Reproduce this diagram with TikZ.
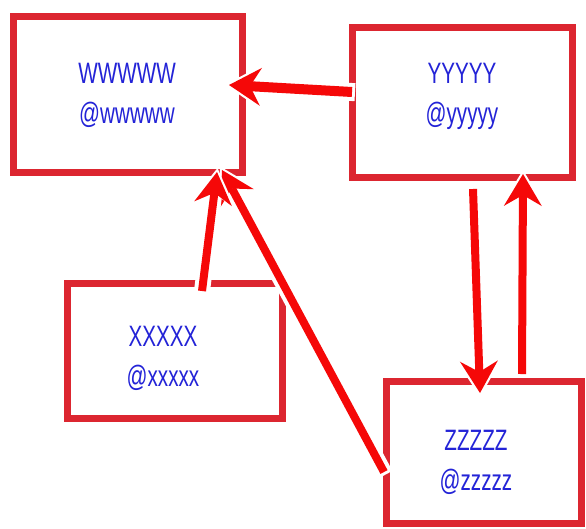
\documentclass[tikz,border=0pt]{standalone}
\usepackage{fontspec}
\usepackage{graphicx}
\setmainfont{Liberation Sans}
\usetikzlibrary{arrows.meta}
\definecolor{boxred}{RGB}{220,38,48}
\definecolor{arrred}{RGB}{245,8,8}
\definecolor{txtblue}{RGB}{35,35,215}
\newcommand\narrowtxt[1]{\scalebox{0.7}[1]{#1}}
\tikzset{
  frame/.style={draw=boxred, line width=7pt, fill=white, inner sep=0pt, rectangle},
  lbl/.style={text=txtblue, align=center, inner sep=0pt, font=\fontsize{29.5}{40}\selectfont},
  conn/.style={draw=arrred, line width=#1,
    -{Stealth[length=32pt,width=38pt,inset=11pt,line width=0pt]},
    preaction={draw=white, line width=#1+8pt, shorten >=-4pt, shorten <=-3pt,
      -{Stealth[length=38pt,width=46pt,inset=12pt,line width=0pt]}}},
  conn/.default=8pt
}
\begin{document}
\begin{tikzpicture}[x=1pt,y=-1pt]
\useasboundingbox (0,0) rectangle (586,528);
% boxes
\node[frame, minimum width=229pt, minimum height=156pt] (w) at (127.5,94) {};
\node[frame, minimum width=220pt, minimum height=150pt] (y) at (462,102) {};
\node[frame, minimum width=215pt, minimum height=135pt] (x) at (174.5,350.5) {};
\node[frame, minimum width=195pt, minimum height=142pt] (z) at (483.5,452) {};
% labels
\node[lbl] (wt) at (127,95) {\narrowtxt{WWWWW}\\\narrowtxt{@wwwww}};
\node[lbl] (yt) at (462,96) {\narrowtxt{YYYYY}\\\narrowtxt{@yyyyy}};
\node[lbl] (xt) at (163,358) {\narrowtxt{XXXXX}\\\narrowtxt{@xxxxx}};
\node[lbl] (zt) at (476,462) {\narrowtxt{ZZZZZ}\\\narrowtxt{@zzzzz}};
% connector end points
\coordinate (ywS) at (352,92);  \coordinate (ywE) at (229,85);
\coordinate (xwS) at (202,291); \coordinate (xwE) at (217,172);
\coordinate (zwS) at (384,472); \coordinate (zwE) at (222,170);
\coordinate (yzS) at (473,189); \coordinate (yzE) at (480,393);
\coordinate (zyS) at (522,374); \coordinate (zyE) at (523,174);
% connectors
\draw[conn] (zwS) -- (zwE);
\draw[conn] (xwS) -- (xwE);
\draw[conn=10pt] (ywS) -- (ywE);
\draw[conn] (yzS) -- (yzE);
\draw[conn] (zyS) -- (zyE);
\end{tikzpicture}
\end{document}
